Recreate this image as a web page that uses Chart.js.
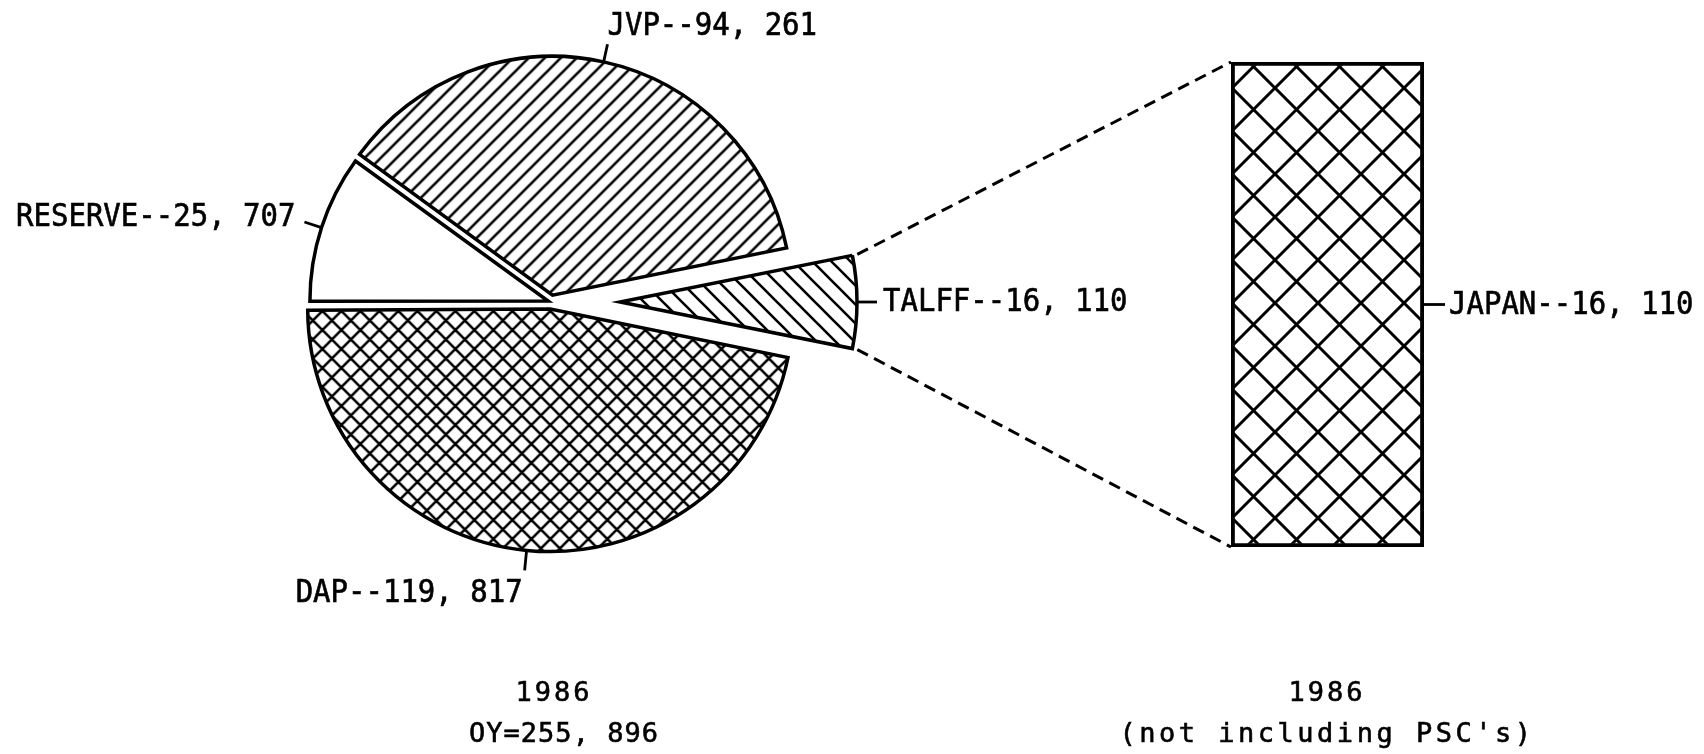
<!DOCTYPE html>
<html>
<head>
<meta charset="utf-8">
<title>1986</title>
<script src="https://cdn.jsdelivr.net/npm/chart.js@4.4.1/dist/chart.umd.min.js"></script>
<style>
  html, body { margin: 0; padding: 0; background: #fff; }
  #quadro { position: relative; width: 1704px; height: 754px; overflow: hidden; }
  #quadro canvas { position: absolute; left: 0; top: 0; }
  .legenda { position: absolute; width: 600px; text-align: center; font-family: "DejaVu Sans Mono", monospace;
             font-size: 27px; line-height: 27px; letter-spacing: 3px; color: #000; white-space: pre;
             -webkit-text-stroke: 0.6px #000; }
</style>
</head>
<body>
<div id="quadro">
  <canvas id="pizza" width="1704" height="754"></canvas>
  <canvas id="pizzaTalff" width="1704" height="754"></canvas>
  <canvas id="barra" width="1704" height="754"></canvas>
  <div class="legenda" id="leg1" style="left:254px; top:678px;"></div>
  <div class="legenda" id="leg2" style="left:264px; top:719px; letter-spacing:1px;"></div>
  <div class="legenda" id="leg3" style="left:1027px; top:678px;"></div>
  <div class="legenda" id="leg4" style="left:1027px; top:719px; letter-spacing:3.5px;"></div>
</div>
<script>
// dados do grafico
var categorias = ['TALFF', 'DAP', 'RESERVE', 'JVP'];
var valores = [16110, 119817, 25707, 94261];
var barraCategorias = ['JAPAN'];
var barraValores = [16110];
var ano = '1986';
var totalOY = 255896;
var notaBarra = "(not including PSC's)";

var total = valores.reduce(function(a, b) { return a + b; }, 0);
// TALFF centrado no lado direito
var rotacao = 90 - (valores[0] / total) * 180;

function formatar(n) {
    var s = String(n);
    return s.slice(0, -3) + ', ' + s.slice(-3);
}

function hachura(tipo, passo, espessura, ax, ay) {
    var c = document.createElement('canvas');
    c.width = passo;
    c.height = passo;
    var g = c.getContext('2d');
    g.strokeStyle = '#000';
    g.lineWidth = espessura;
    g.beginPath();
    if (tipo === '/' || tipo === 'x') {
        g.moveTo(0, passo); g.lineTo(passo, 0);
        g.moveTo(-passo / 2, passo / 2); g.lineTo(passo / 2, -passo / 2);
        g.moveTo(passo / 2, passo * 1.5); g.lineTo(passo * 1.5, passo / 2);
    }
    if (tipo === '\\' || tipo === 'x') {
        g.moveTo(0, 0); g.lineTo(passo, passo);
        g.moveTo(-passo / 2, passo / 2); g.lineTo(passo / 2, passo * 1.5);
        g.moveTo(passo / 2, -passo / 2); g.lineTo(passo * 1.5, passo / 2);
    }
    g.stroke();
    var p = g.createPattern(c, 'repeat');
    if (ax !== undefined) {
        p.setTransform(new DOMMatrix([1, 0, 0, 1, ax % passo, ay % passo]));
    }
    return p;
}

var padraoTalff = hachura('\\', 19, 2.6);
var padraoDap = hachura('x', 19, 2.6);
var padraoJvp = hachura('/', 16, 2.6);
var padraoJapao = hachura('x', 43, 3, 1232, 303);

var fonteRotulo = '29px "DejaVu Sans Mono"';

// texto um pouco mais alto e grosso, como a fonte do plotter
function texto(ctx, t, x, y) {
    ctx.save();
    ctx.translate(x, y);
    ctx.scale(1, 1.1);
    ctx.lineWidth = 0.6;
    ctx.fillText(t, 0, 0);
    ctx.strokeText(t, 0, 0);
    ctx.restore();
}

function escrever(ctx, t, x, y, c, s) {
    if (s < -0.7) {
        ctx.textAlign = 'left'; ctx.textBaseline = 'alphabetic';
        texto(ctx, t, x, y - 9);
    } else if (s > 0.7) {
        ctx.textAlign = 'right'; ctx.textBaseline = 'top';
        texto(ctx, t, x - 2, y + 7);
    } else if (c < 0) {
        ctx.textAlign = 'right'; ctx.textBaseline = 'alphabetic';
        texto(ctx, t, x - 9, y + 4);
    } else {
        ctx.textAlign = 'left'; ctx.textBaseline = 'middle';
        texto(ctx, t, x + 6, y + 1);
    }
}

var pluginRotulos = {
    id: 'rotulos',
    afterDatasetsDraw: function(chart, args, opts) {
        var ctx = chart.ctx;
        var meta = chart.getDatasetMeta(0);
        ctx.save();
        ctx.strokeStyle = '#000';
        ctx.fillStyle = '#000';
        ctx.font = fonteRotulo;
        opts.mostrar.forEach(function(i) {
            var arco = meta.data[i];
            var desloc = (arco.options.offset || 0) / 4;
            var meio = (arco.startAngle + arco.endAngle) / 2;
            var c = Math.cos(meio), s = Math.sin(meio);
            var cx = arco.x + c * desloc;
            var cy = arco.y + s * desloc;
            var r = arco.outerRadius + desloc * (1 - Math.sin(Math.min(Math.PI, arco.circumference)));
            var tam = opts.traco[i];
            ctx.lineWidth = 2.8;
            ctx.beginPath();
            ctx.moveTo(cx + c * r, cy + s * r);
            ctx.lineTo(cx + c * (r + tam), cy + s * (r + tam));
            ctx.stroke();
            escrever(ctx, categorias[i] + '--' + formatar(valores[i]), cx + c * (r + tam), cy + s * (r + tam), c, s);
        });
        ctx.restore();
    }
};

var pizza = new Chart(document.getElementById('pizza'), {
    type: 'pie',
    data: {
        labels: categorias,
        datasets: [{
            data: valores,
            backgroundColor: ['rgba(0,0,0,0)', padraoDap, '#ffffff', padraoJvp],
            borderColor: ['rgba(0,0,0,0)', '#000', '#000', '#000'],
            borderWidth: [0, 3.5, 3.5, 3.5],
            borderJoinStyle: 'miter',
            offset: [0, 28, 12, 28]
        }]
    },
    options: {
        responsive: false,
        animation: false,
        events: [],
        rotation: rotacao,
        radius: 237,
        layout: { padding: { left: 301, right: 903, top: 52, bottom: 202 } },
        plugins: {
            legend: { display: false },
            tooltip: { enabled: false },
            rotulos: { mostrar: [1, 2, 3], traco: [0, 20, 18, 18] }
        }
    },
    plugins: [pluginRotulos]
});

// fatia destacada
var pizzaTalff = new Chart(document.getElementById('pizzaTalff'), {
    type: 'pie',
    data: {
        labels: categorias,
        datasets: [{
            data: valores,
            backgroundColor: [padraoTalff, 'rgba(0,0,0,0)', 'rgba(0,0,0,0)', 'rgba(0,0,0,0)'],
            borderColor: ['#000', 'rgba(0,0,0,0)', 'rgba(0,0,0,0)', 'rgba(0,0,0,0)'],
            borderWidth: [3.5, 0, 0, 0],
            borderJoinStyle: 'miter'
        }]
    },
    options: {
        responsive: false,
        animation: false,
        events: [],
        rotation: rotacao,
        radius: 237,
        layout: { padding: { left: 370, right: 834, top: 52, bottom: 202 } },
        plugins: {
            legend: { display: false },
            tooltip: { enabled: false },
            rotulos: { mostrar: [0], traco: [20, 0, 0, 0] }
        }
    },
    plugins: [pluginRotulos]
});

var pluginLigacao = {
    id: 'ligacao',
    afterDatasetsDraw: function(chart) {
        var ctx = chart.ctx;
        var b = chart.getDatasetMeta(0).data[0];
        var esq = b.x - b.width / 2;
        var dir = b.x + b.width / 2;
        var topo = b.y;
        var base = b.base;
        var a = pizzaTalff.getDatasetMeta(0).data[0];
        var r = a.outerRadius + 5;
        ctx.save();
        ctx.strokeStyle = '#000';
        ctx.lineWidth = 3;
        ctx.setLineDash([12, 7]);
        ctx.beginPath();
        ctx.moveTo(a.x + Math.cos(a.startAngle) * r, a.y + Math.sin(a.startAngle) * r);
        ctx.lineTo(esq, topo);
        ctx.moveTo(a.x + Math.cos(a.endAngle) * r, a.y + Math.sin(a.endAngle) * r);
        ctx.lineTo(esq, base);
        ctx.stroke();
        ctx.setLineDash([]);
        var meioY = (topo + base) / 2;
        ctx.lineWidth = 2.8;
        ctx.beginPath();
        ctx.moveTo(dir, meioY);
        ctx.lineTo(dir + 21, meioY);
        ctx.stroke();
        ctx.fillStyle = '#000';
        ctx.font = fonteRotulo;
        ctx.textAlign = 'left';
        ctx.textBaseline = 'middle';
        texto(ctx, barraCategorias[0] + '--' + formatar(barraValores[0]), dir + 25, meioY + 1);
        ctx.restore();
    }
};

var barra = new Chart(document.getElementById('barra'), {
    type: 'bar',
    data: {
        labels: barraCategorias,
        datasets: [{
            label: barraCategorias[0],
            data: barraValores,
            backgroundColor: padraoJapao,
            borderColor: '#000',
            borderWidth: 3.5,
            borderSkipped: false,
            barPercentage: 1,
            categoryPercentage: 1
        }]
    },
    options: {
        responsive: false,
        animation: false,
        events: [],
        layout: { padding: { left: 1231, right: 280, top: 62, bottom: 207 } },
        scales: {
            x: { display: false },
            y: { display: false, min: 0, max: Math.max.apply(null, barraValores) }
        },
        plugins: {
            legend: { display: false },
            tooltip: { enabled: false }
        }
    },
    plugins: [pluginLigacao]
});

document.getElementById('leg1').textContent = ano;
document.getElementById('leg2').textContent = 'OY=' + formatar(totalOY);
document.getElementById('leg3').textContent = ano;
document.getElementById('leg4').textContent = notaBarra;
</script>
</body>
</html>
